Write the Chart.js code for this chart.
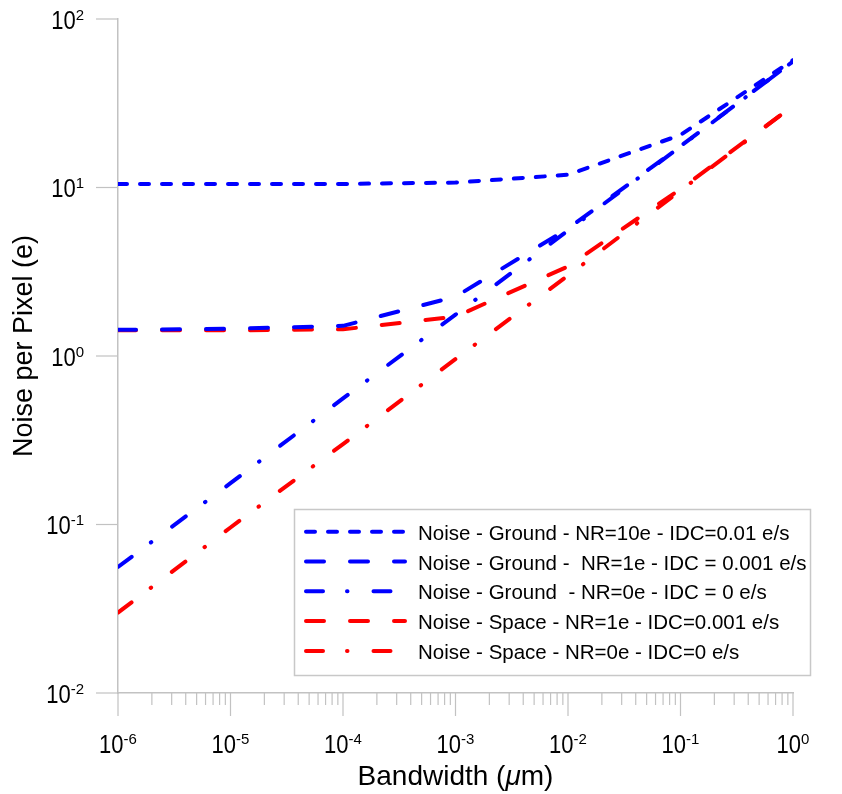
<!DOCTYPE html>
<html><head><meta charset="utf-8">
<script src="https://cdn.jsdelivr.net/npm/chart.js@4.4.1/dist/chart.umd.min.js"></script>
<style>html,body{margin:0;padding:0;background:#fff;}#wrap{width:842px;height:794px;}</style>
</head><body><div id="wrap"><canvas id="c" width="842" height="794"></canvas></div>
<script>
// ---- data ----
const bandwidth  = [1e-6, 1e-5, 1e-4, 1e-3, 1e-2, 1e-1, 1];
const groundNR10 = [10.5, 10.5, 10.5, 10.7, 11.9, 20.5, 57];
const groundNR1  = [1.43, 1.45, 1.51, 2.25, 5.7, 17.6, 56];
const groundNR0  = [0.056, 0.176, 0.56, 1.76, 5.55, 17.5, 56];
const spaceNR1   = [1.42, 1.42, 1.44, 1.71, 3.4, 9.8, 30.5];
const spaceNR0   = [0.030, 0.096, 0.30, 0.96, 3.0, 9.6, 30.5];
const seriesLabels = [
  "Noise - Ground - NR=10e - IDC=0.01 e/s",
  "Noise - Ground -  NR=1e - IDC = 0.001 e/s",
  "Noise - Ground  - NR=0e - IDC = 0 e/s",
  "Noise - Space - NR=1e - IDC=0.001 e/s",
  "Noise - Space - NR=0e - IDC=0 e/s"
];
const xTickExps = [-6, -5, -4, -3, -2, -1, 0];
const yTickExps = [-2, -1, 0, 1, 2];
const xTitle = "Bandwidth (";
const xTitleMu = "\u03bc";
const xTitleEnd = "m)";
const yTitle = "Noise per Pixel (e)";

const seriesValues = [groundNR10, groundNR1, groundNR0, spaceNR1, spaceNR0];
const seriesColors = ['#0000ff', '#0000ff', '#0000ff', '#ff0000', '#ff0000'];
const seriesDash = [[9, 13], [18, 26], [17, 24, 0.5, 26], [18, 26], [17, 24, 0.5, 26]];

const datasets = seriesValues.map((vals, i) => ({
  label: seriesLabels[i],
  data: bandwidth.map((b, j) => ({x: b, y: vals[j]})),
  borderColor: seriesColors[i],
  backgroundColor: seriesColors[i],
  borderWidth: 4,
  borderDash: seriesDash[i],
  borderCapStyle: 'round',
  borderJoinStyle: 'round',
  pointRadius: 0,
  tension: 0,
  fill: false
}));

const FONT = '"Liberation Sans", Arial, sans-serif';
const AXIS_COLOR = '#c2c2c2';

function seg(ctx, x1, y1, x2, y2) { ctx.beginPath(); ctx.moveTo(x1, y1); ctx.lineTo(x2, y2); ctx.stroke(); }

function stretchedText(ctx, txt, x, y, sy) {
  ctx.save(); ctx.translate(x, y); ctx.scale(1, sy); ctx.fillText(txt, 0, 0); ctx.restore();
}

function drawPow(ctx, exp, x, baseY, align) {
  ctx.font = '22px ' + FONT; const w1 = ctx.measureText('10').width;
  const es = String(exp);
  ctx.font = '15px ' + FONT; const w2 = ctx.measureText(es).width;
  const left = align === 'center' ? x - (w1 + w2) / 2 : x - (w1 + w2);
  ctx.textAlign = 'left'; ctx.textBaseline = 'alphabetic';
  ctx.font = '22px ' + FONT; stretchedText(ctx, '10', left, baseY, 1.13);
  ctx.font = '15px ' + FONT; stretchedText(ctx, es, left + w1, baseY - 9, 1.0);
}

const decor = {
  id: 'decor',
  afterDraw(chart) {
    const ctx = chart.ctx, xs = chart.scales.x, ys = chart.scales.y, a = chart.chartArea;
    ctx.save();
    // tick marks
    ctx.strokeStyle = AXIS_COLOR; ctx.lineWidth = 1.2; ctx.setLineDash([]);
    xTickExps.forEach(e => {
      const px = xs.getPixelForValue(Math.pow(10, e));
      seg(ctx, px, a.bottom, px, a.bottom + 23);
      if (e < 0) for (let m = 2; m <= 9; m++) {
        const p = xs.getPixelForValue(m * Math.pow(10, e));
        seg(ctx, p, a.bottom, p, a.bottom + 12);
      }
    });
    yTickExps.forEach(e => {
      const py = ys.getPixelForValue(Math.pow(10, e));
      seg(ctx, a.left - 22, py, a.left, py);
    });
    // tick labels
    ctx.fillStyle = '#000';
    xTickExps.forEach(e => drawPow(ctx, e, xs.getPixelForValue(Math.pow(10, e)), a.bottom + 60, 'center'));
    yTickExps.forEach(e => drawPow(ctx, e, a.left - 34, ys.getPixelForValue(Math.pow(10, e)) + 9.5, 'right'));
    // x title
    ctx.font = '28px ' + FONT; const t1 = ctx.measureText(xTitle).width, t3 = ctx.measureText(xTitleEnd).width;
    ctx.font = 'italic 28px ' + FONT; const t2 = ctx.measureText(xTitleMu).width;
    let tx = (a.left + a.right) / 2 - (t1 + t2 + t3) / 2; const ty = 785;
    ctx.textAlign = 'left'; ctx.textBaseline = 'alphabetic';
    ctx.font = '28px ' + FONT; ctx.fillText(xTitle, tx, ty); tx += t1;
    ctx.font = 'italic 28px ' + FONT; ctx.fillText(xTitleMu, tx, ty); tx += t2;
    ctx.font = '28px ' + FONT; ctx.fillText(xTitleEnd, tx, ty);
    // y title
    ctx.save(); ctx.translate(32, (a.top + a.bottom) / 2 - 10); ctx.rotate(-Math.PI / 2);
    ctx.textAlign = 'center'; ctx.font = '27px ' + FONT; ctx.fillText(yTitle, 0, 0); ctx.restore();
    // legend
    const lx = 294.5, ly = 509.5, lw = 516, lh = 166;
    ctx.fillStyle = '#fff'; ctx.fillRect(lx, ly, lw, lh);
    ctx.strokeStyle = '#c8c8c8'; ctx.lineWidth = 1.5; ctx.strokeRect(lx, ly, lw, lh);
    chart.data.datasets.forEach((ds, i) => {
      const y = 531.7 + i * 29.8;
      ctx.strokeStyle = ds.borderColor; ctx.lineWidth = ds.borderWidth; ctx.lineCap = 'round';
      ctx.setLineDash(ds.borderDash); ctx.lineDashOffset = 0;
      seg(ctx, 306, y, 405, y);
      ctx.setLineDash([]);
      ctx.fillStyle = '#000'; ctx.font = '20.5px ' + FONT; ctx.textAlign = 'left'; ctx.textBaseline = 'alphabetic';
      ctx.fillText(ds.label, 418, y + 8);
    });
    ctx.restore();
  }
};

new Chart(document.getElementById('c'), {
  type: 'line',
  data: {datasets},
  options: {
    responsive: false, animation: false, devicePixelRatio: 1,
    layout: {padding: {left: 118, right: 49, top: 19, bottom: 101}},
    plugins: {legend: {display: false}, tooltip: {enabled: false}},
    scales: {
      x: {type: 'logarithmic', min: 1e-6, max: 1,
          grid: {display: false, drawTicks: false},
          border: {display: true, color: AXIS_COLOR, width: 1.5},
          ticks: {display: false}},
      y: {type: 'logarithmic', min: 1e-2, max: 1e2,
          grid: {display: false, drawTicks: false},
          border: {display: true, color: AXIS_COLOR, width: 1.5},
          ticks: {display: false}}
    }
  },
  plugins: [decor]
});
</script></body></html>
